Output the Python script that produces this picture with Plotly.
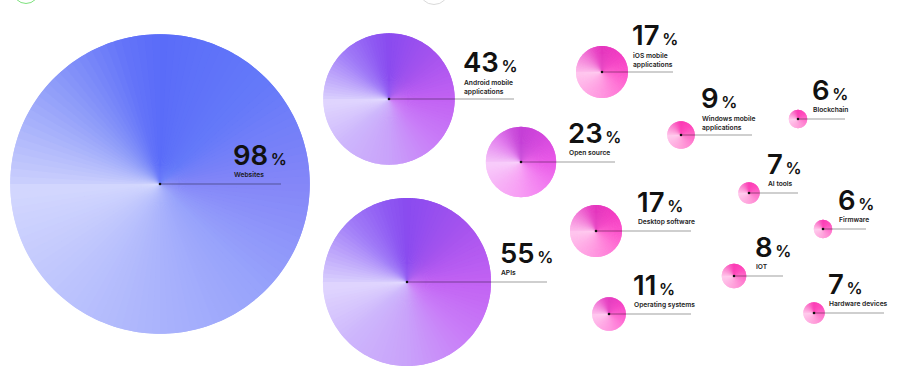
import plotly.graph_objects as go

# ---------------- data ----------------
categories = [
    "Websites", "Android mobile<br>applications", "APIs", "Open source",
    "iOS mobile<br>applications", "Desktop software", "Operating systems",
    "Windows mobile<br>applications", "Blockchain", "AI tools", "Firmware",
    "IOT", "Hardware devices",
]
values = [98, 43, 55, 23, 17, 17, 11, 9, 6, 7, 6, 8, 7]

# ---------------- layout (pixel positions) ----------------
center_x = [160, 389, 407, 521, 602, 596, 609, 681, 798, 749, 823, 734, 814]
center_y = [184, 99, 282, 162, 72, 231, 314, 135, 119, 193, 229, 276, 313]
line_end_x = [281, 514, 547, 615, 673, 691, 691, 752, 845, 798, 866, 783, 884]
label_x = [233, 463, 500, 568, 632, 637, 633, 701, 812, 767, 838, 755, 828]
palette_of = ["blue", "violet", "violet", "magenta", "pink", "pink", "pink",
              "hot", "hot", "hot", "hot", "hot", "hot"]

W, H = 904, 375
PX_PER_PCT = 1.528   # circle radius in px per percentage point
N_SLICES = 120

PALETTES = {
    "blue": [(0, "#5a6cf9"), (45, "#6479f9"), (90, "#8486f8"), (135, "#97a2fb"),
             (180, "#aab3fc"), (225, "#bec5fd"), (268, "#d3d7fe"), (272, "#c8cdfd"),
             (315, "#8c9af9"), (345, "#6474f9"), (360, "#5a6cf9")],
    "violet": [(0, "#8a4bef"), (45, "#a553ee"), (90, "#c262f3"), (135, "#c97ef8"),
               (180, "#c9a2fa"), (225, "#cdb6fc"), (268, "#e0d6fe"), (272, "#d6cafd"),
               (315, "#a27ef8"), (345, "#8e58f2"), (360, "#8a4bef")],
    "magenta": [(0, "#c43fd6"), (45, "#d64ade"), (90, "#ea5ae8"), (135, "#f27ef0"),
                (180, "#f79cf4"), (225, "#f7b2f6"), (268, "#f8cdfb"), (272, "#f4c0f8"),
                (315, "#e27fee"), (345, "#cc50dc"), (360, "#c43fd6")],
    "pink": [(0, "#e435bd"), (45, "#f23dc3"), (90, "#fd52cb"), (135, "#ff76d6"),
             (180, "#ff94df"), (225, "#fface6"), (268, "#ffc6ee"), (272, "#fdb8ea"),
             (315, "#f277d6"), (345, "#e842c4"), (360, "#e435bd")],
    "hot": [(0, "#fb2fb0"), (45, "#ff3fb8"), (90, "#ff5ec4"), (135, "#ff80d0"),
            (180, "#ff9ad8"), (225, "#ffb0e2"), (268, "#ffc8ec"), (272, "#ffbbe6"),
            (315, "#fb7ccc"), (345, "#fb45b8"), (360, "#fb2fb0")],
}


def hex2rgb(h):
    h = h.lstrip("#")
    return tuple(int(h[i:i + 2], 16) for i in (0, 2, 4))


def color_at(stops, ang):
    ang = ang % 360
    for (a0, c0), (a1, c1) in zip(stops[:-1], stops[1:]):
        if a0 <= ang <= a1:
            t = (ang - a0) / (a1 - a0) if a1 > a0 else 0
            r0, g0, b0 = hex2rgb(c0)
            r1, g1, b1 = hex2rgb(c1)
            return "rgb(%d,%d,%d)" % (round(r0 + (r1 - r0) * t),
                                      round(g0 + (g1 - g0) * t),
                                      round(b0 + (b1 - b0) * t))
    return stops[0][1]


fig = go.Figure()

# invisible anchor trace so the pixel-coordinate axes exist
fig.add_trace(go.Scatter(x=center_x, y=center_y, mode="markers",
                         marker=dict(size=1, opacity=0), hoverinfo="skip",
                         showlegend=False))

step = 360 / N_SLICES
for i, v in enumerate(values):
    r = v * PX_PER_PCT
    cx, cy = center_x[i], center_y[i]
    stops = PALETTES[palette_of[i]]
    dx = [max(0, (cx - r) / W), min(1, (cx + r) / W)]
    dy = [max(0, 1 - (cy + r) / H), min(1, 1 - (cy - r) / H)]
    # two conic-gradient layers, offset by half a slice so seams are hidden
    for rot in (step / 2, 0):
        cols = [color_at(stops, rot + (k + 0.5) * step) for k in range(N_SLICES)]
        fig.add_trace(go.Pie(
            values=[1] * N_SLICES, sort=False, direction="clockwise", rotation=rot,
            marker=dict(colors=cols, line=dict(width=0)),
            textinfo="none", hoverinfo="skip", showlegend=False,
            domain=dict(x=dx, y=dy),
        ))

shapes = []
annotations = []
for i, v in enumerate(values):
    cx, cy = center_x[i], center_y[i]
    two_lines = "<br>" in categories[i]
    shapes.append(dict(type="line", xref="x", yref="y", x0=cx, x1=line_end_x[i],
                       y0=cy, y1=cy, line=dict(color="rgba(0,0,0,0.38)", width=1),
                       layer="above"))
    shapes.append(dict(type="circle", xref="x", yref="y", x0=cx - 1.3, x1=cx + 1.3,
                       y0=cy - 1.3, y1=cy + 1.3, fillcolor="#111", line=dict(width=0),
                       layer="above"))
    annotations.append(dict(
        x=label_x[i] - 1, y=cy - (37 if two_lines else 29), xref="x", yref="y",
        text=f"{v}<span style='font-size:16px'>\u2009%</span>",
        showarrow=False, xanchor="left", yanchor="middle", borderpad=0,
        font=dict(family="Inter", size=27.5, weight=600, color="#111"),
    ))
    annotations.append(dict(
        x=label_x[i], y=cy - (12 if two_lines else 9), xref="x", yref="y",
        text=categories[i], align="left",
        showarrow=False, xanchor="left", yanchor="middle", borderpad=0,
        font=dict(family="Inter", size=6.7, weight=600, color="#1a1a1a"),
    ))

# decorative cut-off controls at the top edge
shapes.append(dict(type="circle", xref="x", yref="y", x0=13, x1=39, y0=-23, y1=3.5,
                   line=dict(color="#7ee27e", width=1)))
shapes.append(dict(type="circle", xref="x", yref="y", x0=419, x1=449, y0=-26, y1=4.5,
                   line=dict(color="#dadada", width=1)))

fig.update_layout(
    width=W, height=H, margin=dict(l=0, r=0, t=0, b=0),
    paper_bgcolor="white", plot_bgcolor="white",
    xaxis=dict(range=[0, W], visible=False, fixedrange=True),
    yaxis=dict(range=[H, 0], visible=False, fixedrange=True),
    shapes=shapes, annotations=annotations, showlegend=False,
)

fig.write_html("out.html", config={"displayModeBar": False},
               post_script="document.body.style.margin='0';"
                           "document.body.style.overflow='hidden';")
